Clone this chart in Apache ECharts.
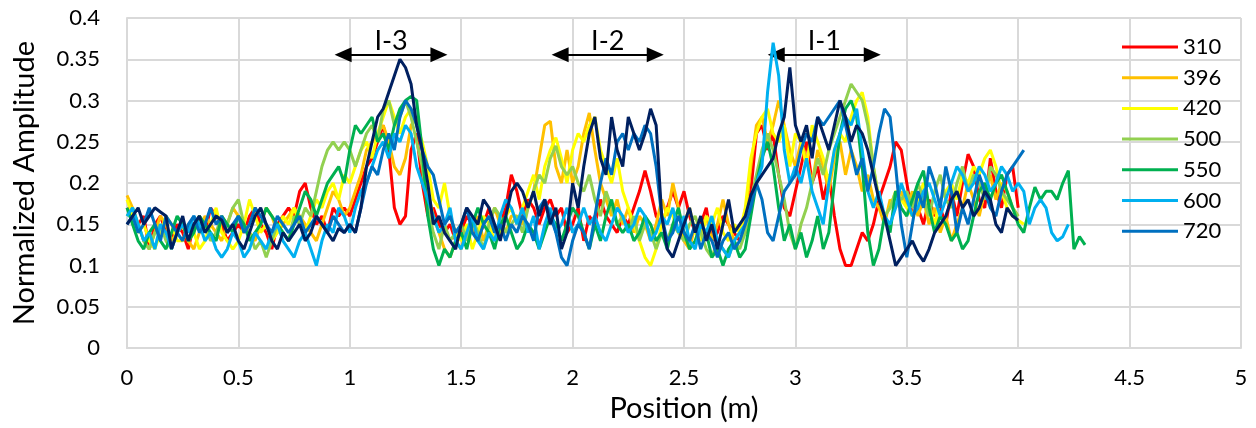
<!DOCTYPE html>
<html>
<head>
<meta charset="utf-8">
<script src="https://cdn.jsdelivr.net/npm/echarts@6/dist/echarts.min.js"></script>
<style>html,body{margin:0;padding:0;background:#fff;}#c{width:1256px;height:428px;}</style>
</head>
<body>
<div id="c"></div>
<script>
// Sample spacing along position (m)
const step = 0.025;
const xTicks = [0, 0.5, 1, 1.5, 2, 2.5, 3, 3.5, 4, 4.5, 5];
const yTicks = [0, 0.05, 0.1, 0.15, 0.2, 0.25, 0.3, 0.35, 0.4];

const s310 = [0.17,0.16,0.15,0.16,0.12,0.15,0.16,0.14,0.13,0.15,
0.14,0.12,0.15,0.16,0.14,0.17,0.16,0.15,0.13,0.14,
0.15,0.14,0.16,0.17,0.15,0.14,0.12,0.15,0.16,0.17,
0.16,0.19,0.2,0.17,0.15,0.16,0.14,0.17,0.16,0.17,
0.16,0.18,0.2,0.22,0.23,0.25,0.27,0.24,0.17,0.15,
0.16,0.24,0.26,0.2,0.16,0.17,0.15,0.14,0.15,0.13,
0.14,0.16,0.15,0.13,0.15,0.17,0.14,0.15,0.17,0.21,
0.19,0.16,0.18,0.17,0.15,0.17,0.18,0.16,0.17,0.14,
0.15,0.17,0.13,0.16,0.15,0.18,0.16,0.15,0.14,0.16,
0.15,0.17,0.19,0.215,0.19,0.16,0.15,0.17,0.19,0.17,
0.19,0.16,0.14,0.15,0.17,0.13,0.14,0.16,0.15,0.14,
0.13,0.14,0.19,0.26,0.27,0.24,0.26,0.21,0.17,0.16,
0.19,0.22,0.25,0.2,0.22,0.18,0.21,0.16,0.12,0.1,
0.1,0.12,0.14,0.13,0.15,0.18,0.2,0.22,0.25,0.24,
0.2,0.16,0.17,0.15,0.18,0.16,0.17,0.15,0.19,0.16,
0.2,0.235,0.22,0.18,0.17,0.23,0.19,0.17,0.21,0.22,
0.17];

const s396 = [0.185,0.17,0.15,0.13,0.12,0.14,0.16,0.15,0.13,0.14,
0.15,0.13,0.12,0.14,0.16,0.15,0.14,0.13,0.15,0.17,
0.16,0.15,0.14,0.13,0.15,0.17,0.16,0.14,0.15,0.16,
0.17,0.16,0.15,0.14,0.13,0.15,0.17,0.19,0.18,0.16,
0.17,0.19,0.21,0.24,0.25,0.26,0.27,0.25,0.22,0.21,
0.23,0.27,0.28,0.24,0.19,0.16,0.14,0.12,0.11,0.13,
0.12,0.15,0.14,0.16,0.13,0.15,0.17,0.15,0.14,0.16,
0.16,0.15,0.17,0.19,0.23,0.27,0.275,0.22,0.2,0.24,
0.2,0.22,0.26,0.285,0.24,0.2,0.18,0.16,0.18,0.15,
0.17,0.14,0.16,0.15,0.13,0.15,0.18,0.16,0.2,0.17,
0.13,0.12,0.15,0.14,0.16,0.13,0.15,0.18,0.15,0.13,
0.14,0.16,0.22,0.27,0.28,0.25,0.27,0.3,0.27,0.24,
0.22,0.25,0.23,0.2,0.24,0.22,0.19,0.23,0.25,0.21,
0.24,0.22,0.19,0.21,0.18,0.17,0.15,0.18,0.17,0.19,
0.17,0.19,0.16,0.18,0.15,0.17,0.14,0.16,0.13,0.15,
0.17,0.2,0.18,0.16,0.19,0.21,0.18,0.2,0.19,0.17,
0.16];

const s420 = [0.18,0.16,0.14,0.15,0.13,0.12,0.14,0.16,0.15,0.13,
0.13,0.15,0.14,0.12,0.13,0.15,0.17,0.14,0.13,0.12,
0.13,0.15,0.18,0.16,0.14,0.15,0.13,0.14,0.16,0.15,
0.17,0.15,0.14,0.16,0.18,0.17,0.19,0.2,0.18,0.21,
0.2,0.22,0.24,0.25,0.23,0.26,0.28,0.3,0.28,0.26,
0.28,0.29,0.27,0.25,0.22,0.18,0.17,0.2,0.16,0.14,
0.13,0.15,0.12,0.14,0.16,0.15,0.13,0.14,0.16,0.17,
0.15,0.17,0.19,0.21,0.18,0.22,0.24,0.255,0.23,0.2,
0.24,0.26,0.25,0.27,0.28,0.24,0.22,0.2,0.23,0.19,
0.17,0.15,0.13,0.11,0.1,0.12,0.15,0.17,0.16,0.14,
0.15,0.17,0.14,0.13,0.16,0.15,0.17,0.14,0.13,0.15,
0.14,0.17,0.23,0.26,0.28,0.29,0.26,0.25,0.27,0.22,
0.26,0.25,0.22,0.27,0.25,0.23,0.2,0.24,0.26,0.25,
0.28,0.3,0.31,0.28,0.22,0.18,0.16,0.17,0.19,0.18,
0.17,0.16,0.18,0.2,0.17,0.15,0.18,0.19,0.2,0.18,
0.21,0.2,0.22,0.21,0.23,0.24,0.22,0.19,0.17,0.16,
0.155,0.15];

const s500 = [0.16,0.17,0.15,0.13,0.12,0.14,0.15,0.13,0.12,0.14,
0.15,0.13,0.14,0.16,0.15,0.13,0.14,0.16,0.15,0.17,
0.18,0.15,0.14,0.12,0.13,0.11,0.13,0.15,0.14,0.13,
0.16,0.15,0.17,0.16,0.19,0.22,0.24,0.25,0.24,0.25,
0.24,0.22,0.24,0.26,0.27,0.25,0.29,0.3,0.27,0.28,
0.3,0.28,0.25,0.22,0.17,0.14,0.12,0.15,0.13,0.14,
0.15,0.13,0.16,0.14,0.12,0.15,0.17,0.16,0.14,0.15,
0.16,0.14,0.17,0.19,0.21,0.2,0.23,0.245,0.22,0.21,
0.22,0.2,0.19,0.21,0.18,0.16,0.19,0.17,0.15,0.16,
0.14,0.16,0.13,0.15,0.14,0.12,0.14,0.13,0.15,0.14,
0.13,0.15,0.16,0.14,0.12,0.11,0.13,0.12,0.11,0.13,
0.12,0.14,0.18,0.21,0.24,0.26,0.24,0.21,0.18,0.14,
0.12,0.15,0.17,0.2,0.23,0.21,0.24,0.26,0.28,0.3,
0.32,0.31,0.3,0.27,0.22,0.18,0.16,0.17,0.19,0.18,
0.19,0.17,0.2,0.18,0.16,0.19,0.21,0.18,0.17,0.2,
0.22,0.19,0.21,0.2,0.18,0.22,0.21,0.19,0.18,0.17,
0.16];

const s550 = [0.17,0.15,0.13,0.12,0.14,0.15,0.13,0.12,0.14,0.16,
0.15,0.13,0.14,0.16,0.15,0.14,0.13,0.16,0.15,0.14,
0.16,0.15,0.13,0.14,0.15,0.17,0.16,0.15,0.14,0.13,
0.15,0.17,0.19,0.18,0.16,0.18,0.2,0.21,0.22,0.2,
0.24,0.27,0.26,0.27,0.28,0.25,0.26,0.24,0.27,0.29,
0.3,0.305,0.3,0.24,0.16,0.12,0.1,0.12,0.11,0.13,
0.14,0.12,0.15,0.17,0.15,0.14,0.12,0.15,0.16,0.14,
0.12,0.13,0.15,0.14,0.12,0.14,0.16,0.15,0.13,0.15,
0.17,0.16,0.14,0.12,0.15,0.13,0.16,0.18,0.15,0.14,
0.15,0.13,0.14,0.16,0.15,0.13,0.14,0.12,0.15,0.17,
0.14,0.12,0.13,0.15,0.14,0.11,0.12,0.1,0.12,0.13,
0.11,0.12,0.16,0.2,0.23,0.25,0.22,0.17,0.13,0.15,
0.12,0.14,0.11,0.13,0.16,0.12,0.14,0.2,0.26,0.29,
0.3,0.28,0.22,0.14,0.1,0.12,0.16,0.14,0.19,0.17,
0.16,0.18,0.2,0.215,0.17,0.14,0.16,0.15,0.13,0.14,
0.12,0.13,0.16,0.19,0.2,0.18,0.2,0.21,0.19,0.17,
0.15,0.14,0.17,0.195,0.18,0.19,0.19,0.18,0.2,0.215,
0.12,0.135,0.125];

const s600 = [0.16,0.17,0.15,0.13,0.14,0.12,0.15,0.14,0.12,0.14,
0.15,0.14,0.16,0.15,0.13,0.14,0.12,0.11,0.12,0.14,
0.13,0.11,0.12,0.14,0.13,0.12,0.14,0.15,0.13,0.12,
0.11,0.13,0.14,0.12,0.1,0.13,0.15,0.14,0.17,0.16,
0.14,0.17,0.19,0.2,0.22,0.24,0.25,0.23,0.26,0.25,
0.27,0.26,0.22,0.2,0.18,0.16,0.14,0.15,0.17,0.13,
0.12,0.14,0.16,0.13,0.12,0.14,0.13,0.16,0.18,0.17,
0.15,0.17,0.14,0.16,0.12,0.15,0.17,0.14,0.15,0.17,
0.14,0.15,0.17,0.15,0.16,0.14,0.13,0.15,0.17,0.16,
0.14,0.15,0.17,0.16,0.13,0.14,0.16,0.15,0.17,0.14,
0.16,0.13,0.12,0.15,0.14,0.16,0.13,0.12,0.11,0.13,
0.14,0.15,0.18,0.2,0.22,0.31,0.37,0.33,0.24,0.2,
0.22,0.2,0.23,0.19,0.17,0.15,0.2,0.24,0.26,0.28,
0.27,0.29,0.24,0.19,0.17,0.19,0.16,0.15,0.17,0.2,
0.18,0.16,0.17,0.19,0.2,0.18,0.16,0.18,0.2,0.22,
0.21,0.19,0.2,0.22,0.21,0.19,0.2,0.22,0.21,0.19,
0.2,0.19,0.15,0.17,0.18,0.17,0.14,0.13,0.135,0.15];

const s720 = [0.15,0.16,0.14,0.15,0.17,0.15,0.13,0.16,0.15,0.14,
0.13,0.15,0.16,0.14,0.15,0.17,0.15,0.16,0.14,0.15,
0.16,0.14,0.15,0.17,0.16,0.15,0.14,0.16,0.15,0.14,
0.15,0.16,0.14,0.15,0.16,0.15,0.14,0.16,0.15,0.14,
0.15,0.14,0.17,0.2,0.22,0.21,0.24,0.26,0.24,0.28,
0.3,0.29,0.27,0.24,0.22,0.21,0.18,0.15,0.16,0.14,
0.15,0.17,0.14,0.13,0.15,0.16,0.14,0.15,0.13,0.15,
0.14,0.16,0.15,0.13,0.17,0.18,0.16,0.14,0.11,0.1,
0.13,0.15,0.14,0.12,0.16,0.2,0.23,0.21,0.25,0.26,
0.24,0.26,0.25,0.27,0.26,0.22,0.16,0.13,0.14,0.16,
0.14,0.13,0.15,0.12,0.14,0.13,0.11,0.13,0.14,0.12,
0.13,0.15,0.17,0.2,0.18,0.14,0.13,0.16,0.19,0.2,
0.21,0.24,0.26,0.25,0.28,0.27,0.28,0.29,0.3,0.27,
0.24,0.21,0.23,0.19,0.22,0.26,0.29,0.28,0.22,0.15,
0.11,0.15,0.19,0.17,0.22,0.2,0.17,0.22,0.19,0.14,
0.17,0.15,0.18,0.21,0.19,0.17,0.16,0.19,0.21,0.22,
0.23,0.24];

const sNavy = [0.15,0.16,0.17,0.15,0.16,0.17,0.165,0.16,0.12,0.14,
0.16,0.13,0.15,0.16,0.14,0.15,0.16,0.155,0.14,0.15,
0.13,0.12,0.14,0.16,0.17,0.15,0.13,0.12,0.14,0.13,
0.14,0.15,0.13,0.14,0.16,0.15,0.14,0.13,0.145,0.14,
0.15,0.14,0.17,0.22,0.25,0.28,0.29,0.31,0.33,0.35,
0.34,0.32,0.27,0.24,0.2,0.15,0.16,0.14,0.13,0.12,
0.15,0.17,0.16,0.15,0.18,0.17,0.15,0.13,0.16,0.19,
0.2,0.19,0.17,0.19,0.16,0.18,0.15,0.17,0.12,0.14,
0.2,0.17,0.22,0.26,0.28,0.23,0.21,0.28,0.24,0.22,
0.28,0.26,0.24,0.26,0.29,0.27,0.16,0.12,0.11,0.13,
0.15,0.17,0.14,0.16,0.13,0.15,0.12,0.15,0.18,0.14,
0.15,0.16,0.185,0.2,0.21,0.22,0.23,0.26,0.28,0.34,
0.27,0.25,0.27,0.23,0.28,0.26,0.24,0.27,0.3,0.28,
0.25,0.27,0.26,0.24,0.21,0.18,0.16,0.13,0.1,0.11,
0.12,0.13,0.115,0.105,0.12,0.14,0.15,0.16,0.18,0.19,
0.17,0.18,0.16,0.17,0.19,0.18,0.15,0.14,0.17,0.16,
0.155];

const seriesNames = ['310', '396', '420', '500', '550', '600', '720', ''];
const seriesColors = ['#FF0000', '#FFC000', '#FFFF00', '#92D050', '#00B050', '#00B0F0', '#0070C0', '#002060'];
const seriesValues = [s310, s396, s420, s500, s550, s600, s720, sNavy];

// Zone annotations (arrow spans in metres, at amplitude level)
const zoneLabels = ['I-3', 'I-2', 'I-1'];
const zoneStart = [0.97, 1.944, 2.914];
const zoneEnd = [1.40, 2.371, 3.345];
const zoneLevel = 0.3555;

const FONT = 'Lato, "Open Sans", sans-serif';
const toPairs = arr => arr.map((v, i) => [Math.round(i * step * 1000) / 1000, v]);

const series = seriesValues.map((vals, k) => ({
  name: seriesNames[k] || 'navy',
  type: 'line',
  data: toPairs(vals),
  showSymbol: false,
  symbol: 'none',
  smooth: false,
  lineStyle: { color: seriesColors[k], width: 3 },
  itemStyle: { color: seriesColors[k] },
  z: 2 + k
}));

series.push({
  name: 'zones',
  type: 'line',
  data: [],
  z: 20,
  markLine: {
    silent: true,
    symbol: ['triangle', 'triangle'],
    symbolSize: [15, 17],
    lineStyle: { color: '#000', width: 2, type: 'solid' },
    label: {
      show: true,
      position: 'insideMiddleTop',
      formatter: p => p.name,
      color: '#000',
      fontSize: 27,
      fontFamily: FONT,
      distance: 0
    },
    data: zoneLabels.map((n, i) => [
      { name: n, coord: [zoneStart[i], zoneLevel] },
      { coord: [zoneEnd[i], zoneLevel] }
    ])
  }
});

const chart = echarts.init(document.getElementById('c'), null, { renderer: 'canvas' });
chart.setOption({
  animation: false,
  backgroundColor: '#fff',
  grid: { left: 127, right: 15, top: 18, bottom: 78, containLabel: false },
  legend: {
    data: seriesNames.slice(0, 7),
    orient: 'vertical',
    left: 1117,
    top: 31,
    icon: 'rect',
    itemWidth: 56,
    itemHeight: 3,
    itemGap: 8.7,
    textStyle: { fontSize: 22, lineHeight: 22, color: '#000', fontFamily: FONT }
  },
  xAxis: {
    type: 'value',
    min: xTicks[0],
    max: xTicks[xTicks.length - 1],
    interval: 0.5,
    name: 'Position (m)',
    nameLocation: 'middle',
    nameGap: 38,
    nameTextStyle: { fontSize: 29, color: '#000', fontFamily: FONT },
    axisLine: { show: true, lineStyle: { color: '#d9d9d9', width: 2 } },
    axisTick: { show: false },
    axisLabel: { fontSize: 22, color: '#000', margin: 19, fontFamily: FONT },
    splitLine: { show: true, lineStyle: { color: '#d9d9d9', width: 2 } }
  },
  yAxis: {
    type: 'value',
    min: yTicks[0],
    max: yTicks[yTicks.length - 1],
    interval: 0.05,
    name: 'Normalized Amplitude',
    nameLocation: 'middle',
    nameGap: 88,
    nameRotate: 90,
    nameTextStyle: { fontSize: 29, color: '#000', fontFamily: FONT },
    axisLine: { show: true, lineStyle: { color: '#d9d9d9', width: 2 } },
    axisTick: { show: false },
    axisLabel: { fontSize: 22, color: '#000', margin: 27, fontFamily: FONT },
    splitLine: { show: true, lineStyle: { color: '#d9d9d9', width: 2 } }
  },
  series: series
});
</script>
</body>
</html>
